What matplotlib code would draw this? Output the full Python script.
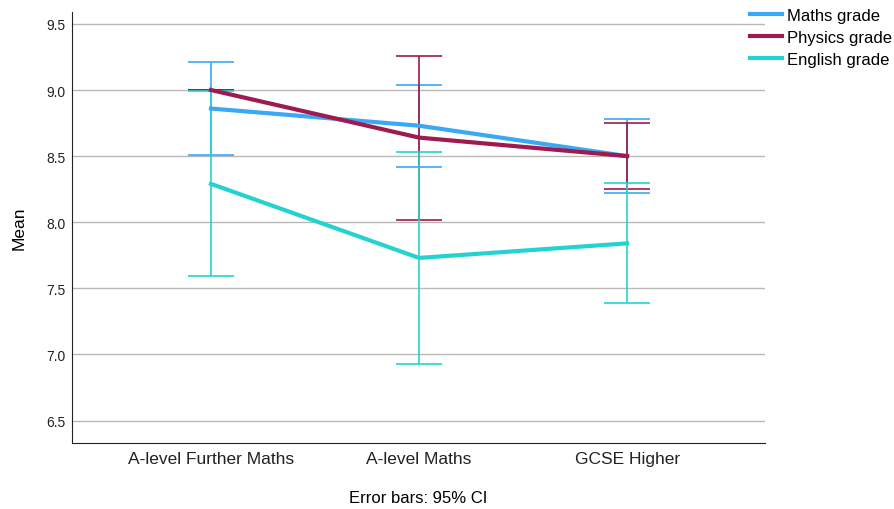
import matplotlib.pyplot as plt
import numpy as np

# group means and 95% CI bounds per subject
courses = ["A-level Further Maths", "A-level Maths", "GCSE Higher"]
subjects = ["Maths grade", "Physics grade", "English grade"]
colors = ["#3aa8f5", "#9e1a4f", "#24d3d0"]

maths_mean = [8.86, 8.73, 8.50]
maths_low = [8.51, 8.42, 8.22]
maths_high = [9.21, 9.04, 8.78]

physics_mean = [9.00, 8.64, 8.50]
physics_low = [9.00, 8.02, 8.25]
physics_high = [9.00, 9.26, 8.75]

english_mean = [8.29, 7.73, 7.84]
english_low = [7.59, 6.93, 7.39]
english_high = [8.99, 8.53, 8.30]

means = [maths_mean, physics_mean, english_mean]
lows = [maths_low, physics_low, english_low]
highs = [maths_high, physics_high, english_high]

plt.rcParams['font.family'] = ['Liberation Sans', 'DejaVu Sans']

fig = plt.figure(figsize=(8.94, 5.10), dpi=100)
ax = fig.add_axes([72/894, 66/510, 693/894, 431/510])

x = np.arange(len(courses))
for name, col, m, lo, hi in zip(subjects, colors, means, lows, highs):
    m = np.array(m); lo = np.array(lo); hi = np.array(hi)
    ax.errorbar(x, m, yerr=[m - lo, hi - m], fmt="none", ecolor=col,
                elinewidth=1.2, capsize=16.5, capthick=1.2, zorder=3)
    ax.plot(x, m, color=col, linewidth=3, label=name, zorder=4)

ax.set_xlim(-0.668, 2.663)
ax.set_ylim(6.33, 9.59)
ax.set_yticks([6.5, 7.0, 7.5, 8.0, 8.5, 9.0, 9.5])
ax.set_yticklabels(["6.5", "7.0", "7.5", "8.0", "8.5", "9.0", "9.5"])
ax.set_xticks(x)
ax.set_xticklabels(courses)
ax.yaxis.grid(True, color="#b8b8b8", linewidth=1)
ax.set_axisbelow(True)
for s in ["top", "right"]:
    ax.spines[s].set_visible(False)
for s in ["left", "bottom"]:
    ax.spines[s].set_color("#222222")
ax.tick_params(axis="both", colors="#222222", length=0)
ax.tick_params(axis="y", labelsize=10, pad=4.5)
ax.tick_params(axis="x", labelsize=12.5, pad=6)
ax.set_ylabel("Mean", fontsize=12.5, labelpad=14)
ax.set_xlabel("Error bars: 95% CI", fontsize=12, labelpad=17)

fig.legend(loc="upper left", bbox_to_anchor=(750/894, 1.0 - 9/510),
           frameon=False, fontsize=12, handlelength=1.9,
           handletextpad=0.3, labelspacing=0.42, borderaxespad=0,
           borderpad=0)

fig.savefig("out.png", dpi=100)
